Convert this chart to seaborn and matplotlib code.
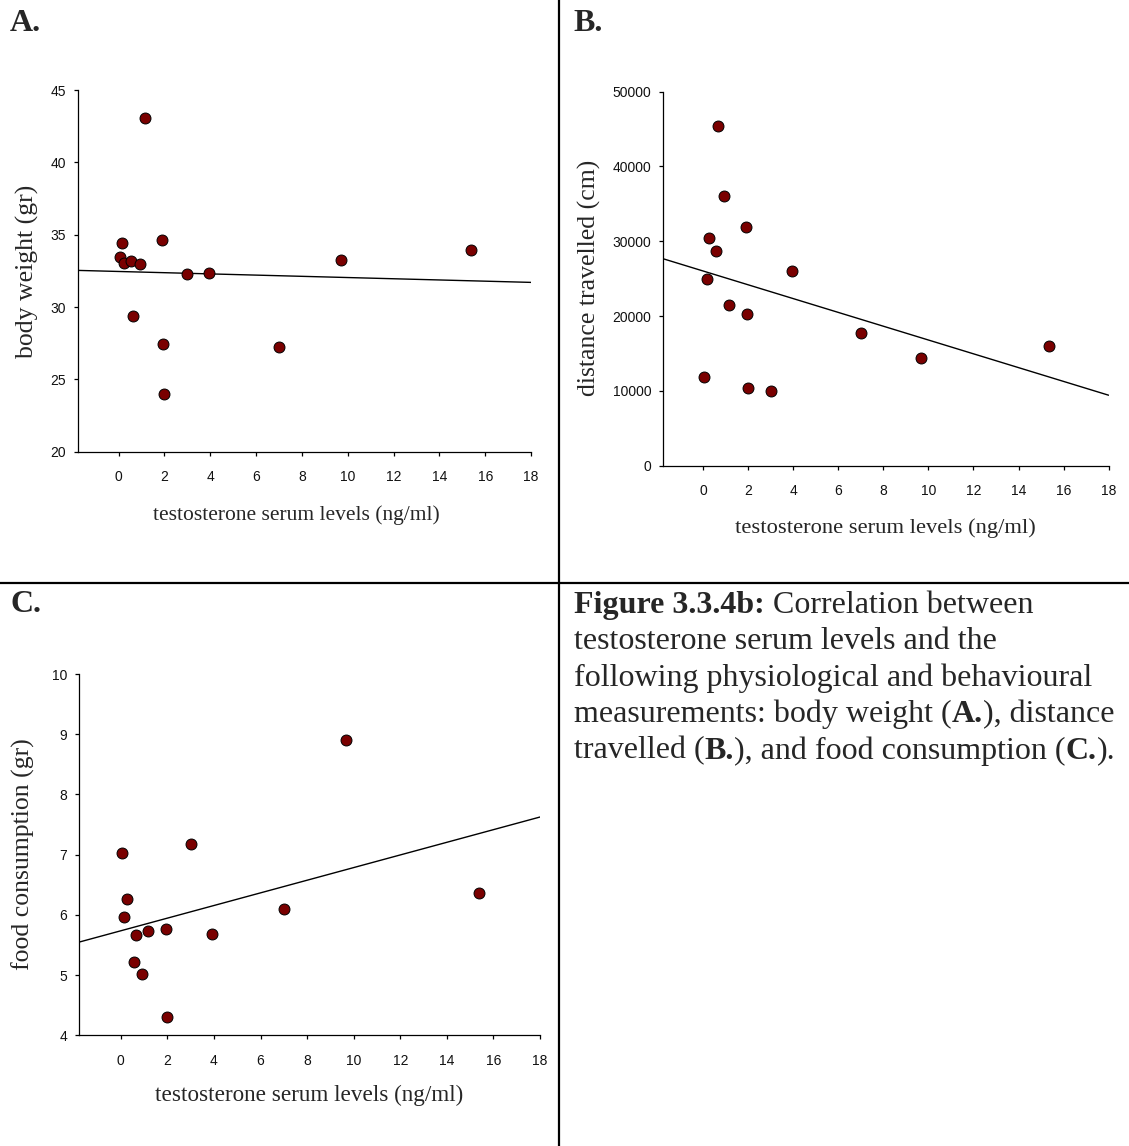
import matplotlib
matplotlib.use("Agg")
import matplotlib.pyplot as plt
import numpy as np
import pandas as pd
import seaborn as sns

# Serum testosterone (ng/ml) for each animal
testosterone = [0.05, 0.15, 0.25, 0.55, 0.64, 0.92, 1.16, 1.88, 1.94, 1.98,
                3.00, 3.93, 7.00, 9.69, 15.36]

# Body weight (gr)
body_weight = [33.46, 34.45, 33.04, 33.16, 29.40, 33.00, 43.08, 34.66, 27.46,
               24.02, 32.30, 32.37, 27.25, 33.23, 33.94]

# Distance travelled (cm)
distance = [11810, 24960, 30440, 28650, 45410, 36050, 21430, 31910, 20320,
            10380, 10030, 26070, 17740, 14440, 16000]

# Food consumption (gr); one animal has no measurement
food = [7.03, 5.97, 6.27, 5.21, 5.67, 5.02, 5.74, np.nan, 5.77,
        4.30, 7.17, 5.68, 6.09, 8.90, 6.37]

x_ticks = [0, 2, 4, 6, 8, 10, 12, 14, 16, 18]
weight_ticks = [20, 25, 30, 35, 40, 45]
distance_ticks = [0, 10000, 20000, 30000, 40000, 50000]
food_ticks = [4, 5, 6, 7, 8, 9, 10]

x_label = "testosterone serum levels (ng/ml)"

sns.set_style("ticks")
plt.rcParams["font.family"] = ["Liberation Sans", "DejaVu Sans"]

W, H = 1129, 1146
fig = plt.figure(figsize=(W / 100, H / 100), dpi=100)


def px_axes(left, top, right, bottom):
    return fig.add_axes([left / W, 1 - bottom / H, (right - left) / W, (bottom - top) / H])


df = pd.DataFrame({"testosterone": testosterone, "weight": body_weight,
                   "distance": distance, "food": food})

panels = [
    # (box px, y column, y label, y ticks, xlim left, xlabel centre px, ylabel centre px, xlabel size)
    ((77.5, 90.0, 531.1, 451.7), "weight", "body weight (gr)", weight_ticks, -1.79,
     (296, 515), (27, 271), 15.5),
    ((662.7, 91.7, 1108.6, 465.7), "distance", "distance travelled (cm)", distance_ticks, -1.80,
     (885, 528), (589, 278), 16.2),
    ((78.6, 674.0, 540.0, 1035.3), "food", "food consumption (gr)", food_ticks, -1.81,
     (309, 1095), (23, 854), 16.7),
]

for box, col, ylab, yt, xmin, xl_pos, yl_pos, xl_size in panels:
    ax = px_axes(*box)
    ax.set_xlim(xmin, 18)
    ax.set_ylim(yt[0], yt[-1])
    sns.regplot(data=df, x="testosterone", y=col, ax=ax, ci=None, truncate=False,
                scatter_kws=dict(s=62, color="#7a0000", edgecolors="black",
                                 linewidths=0.7, alpha=1, zorder=3),
                line_kws=dict(color="black", lw=1.0, zorder=2))
    ax.set_xlim(xmin, 18)
    ax.set_ylim(yt[0], yt[-1])
    ax.set_xticks(x_ticks)
    ax.set_yticks(yt)
    ax.set_yticklabels([str(v) for v in yt])
    sns.despine(ax=ax)
    for s in ("left", "bottom"):
        ax.spines[s].set_linewidth(0.9)
        ax.spines[s].set_color("black")
    ax.tick_params(axis="both", direction="out", length=3.2, width=0.9,
                   color="black", labelsize=10, labelcolor="#111111")
    ax.tick_params(axis="x", pad=10)
    ax.tick_params(axis="y", pad=5)

    ax.set_xlabel(x_label, family="Liberation Serif", fontsize=xl_size)
    ax.set_ylabel(ylab, family="Liberation Serif", fontsize=18.5)
    ax.xaxis.label.set_va("center")
    ax.yaxis.label.set_va("center")
    ax.xaxis.set_label_coords(*ax.transAxes.inverted().transform(
        (xl_pos[0], H - xl_pos[1])))
    ax.yaxis.set_label_coords(*ax.transAxes.inverted().transform(
        (yl_pos[0], H - yl_pos[1])))

# Panel frame lines
fig.add_artist(plt.Line2D([559 / W, 559 / W], [0, 1], color="black", lw=1.6))
fig.add_artist(plt.Line2D([0, 1], [1 - 583 / H, 1 - 583 / H], color="black", lw=1.6))

# Panel letters
for letter, (lx, ly) in {"A.": (10, 31), "B.": (573, 31), "C.": (10, 612)}.items():
    fig.text(lx / W, 1 - ly / H, letter, family="Liberation Serif",
             fontweight="bold", fontsize=23, ha="left", va="baseline")

# Caption with bold fragments
caption = [
    [("Figure 3.3.4b:", True), (" Correlation between", False)],
    [("testosterone serum levels and the", False)],
    [("following physiological and behavioural", False)],
    [("measurements: body weight (", False), ("A.", True), ("), distance", False)],
    [("travelled (", False), ("B.", True), ("), and food consumption (", False),
     ("C.", True), (").", False)],
]
renderer = fig.canvas.get_renderer()
cap_x, cap_y0, cap_dy = 574, 613, 36.4
for i, parts in enumerate(caption):
    x = cap_x
    y = cap_y0 + i * cap_dy
    for txt, bold in parts:
        t = fig.text(x / W, 1 - y / H, txt, family="Liberation Serif",
                     fontweight="bold" if bold else "normal", fontsize=23,
                     ha="left", va="baseline")
        ext = t.get_window_extent(renderer=renderer)
        x += ext.width

fig.savefig("out.png", dpi=100)
